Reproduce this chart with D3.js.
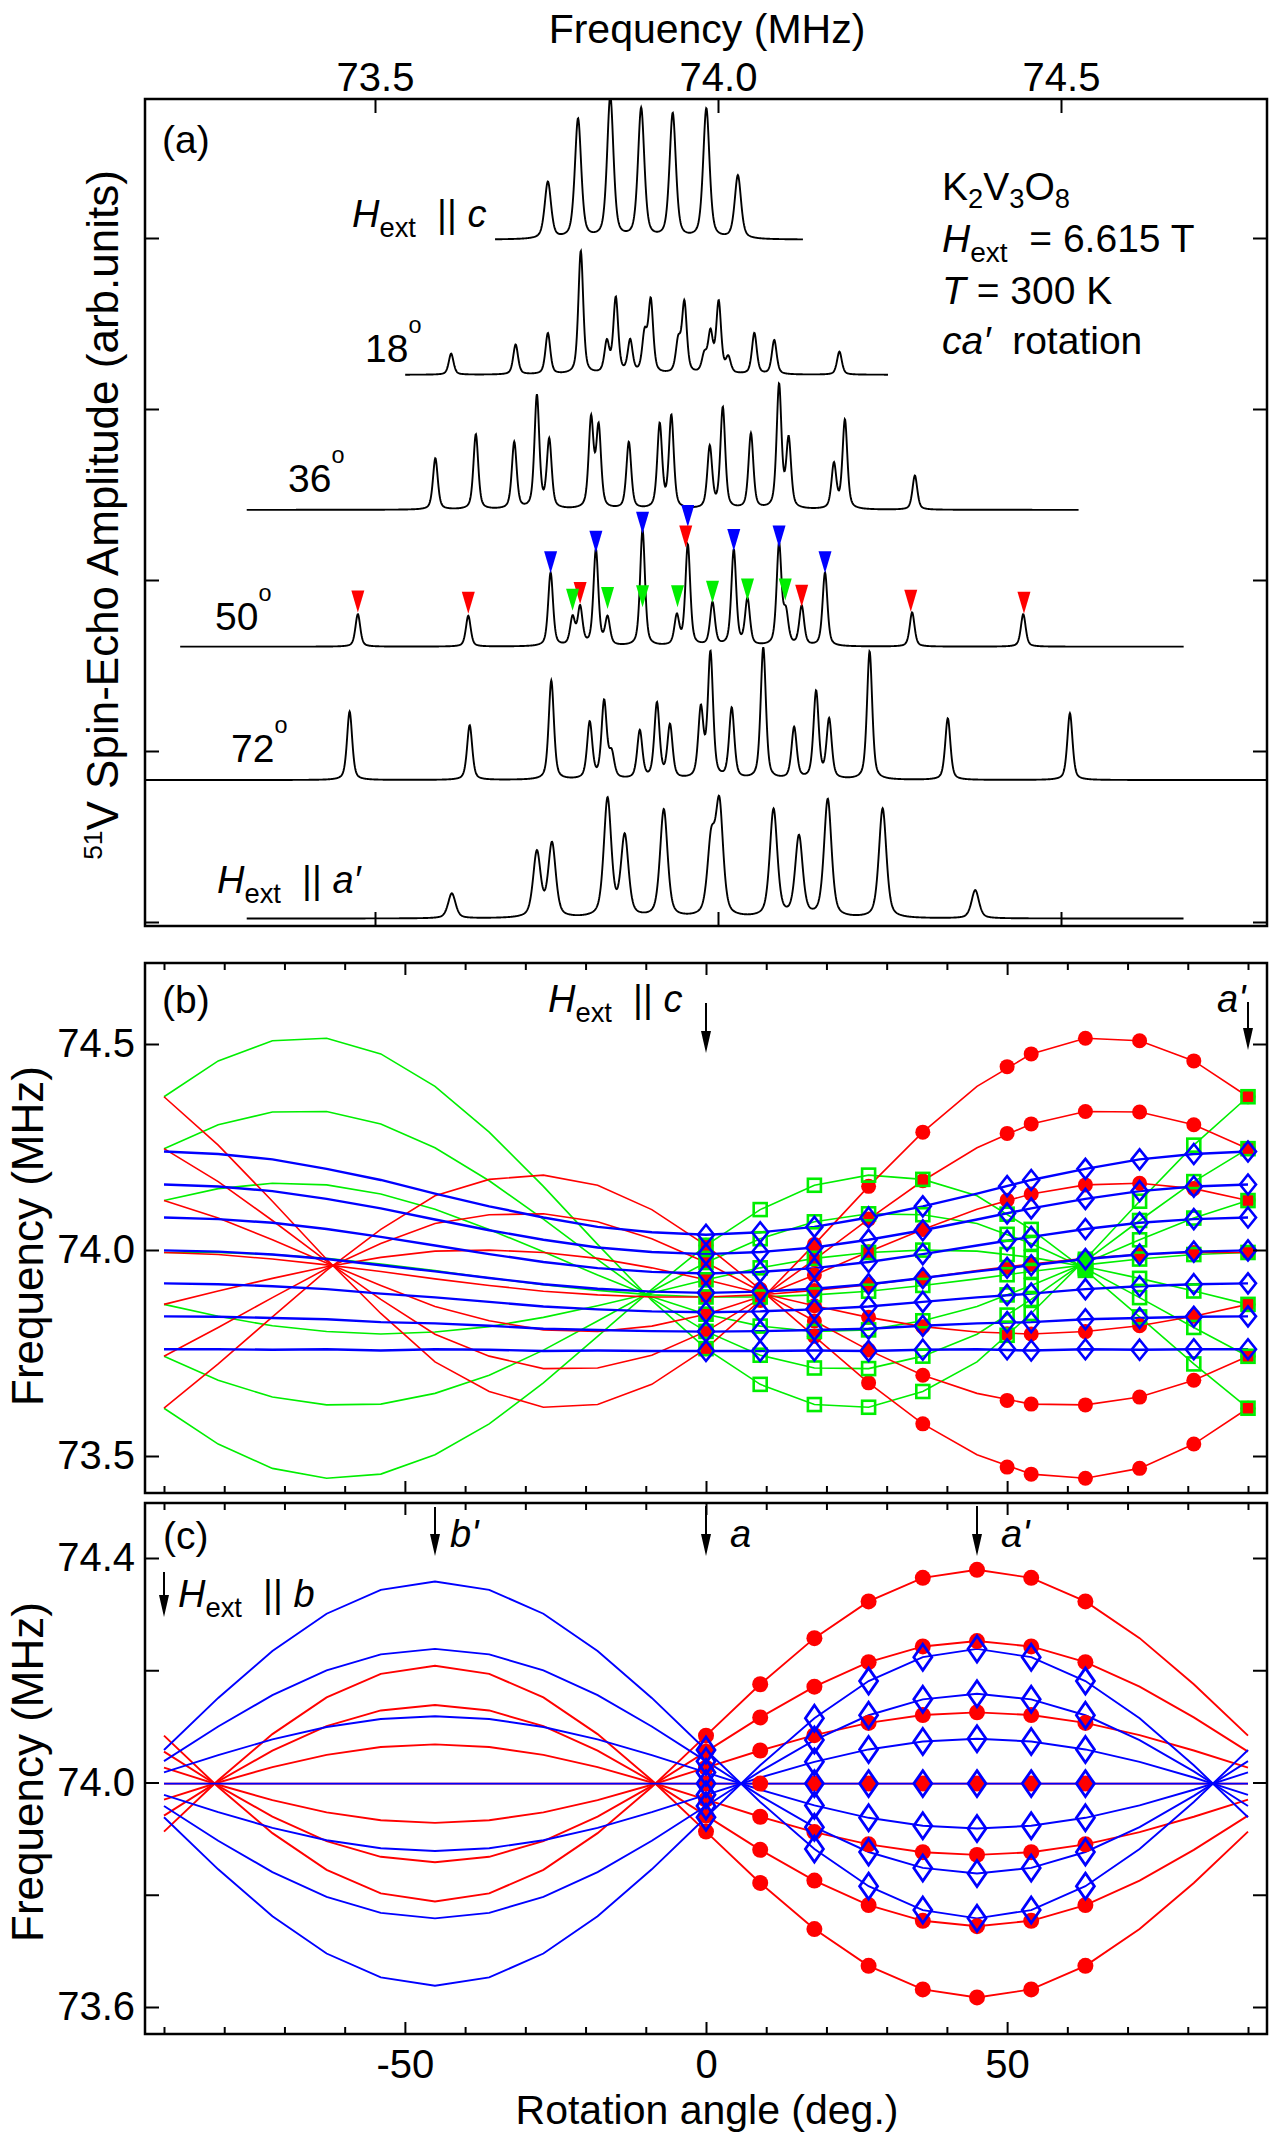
<!DOCTYPE html>
<html>
<head>
<meta charset="utf-8">
<script src="https://cdn.jsdelivr.net/npm/d3@7"></script>
<style>
  body { margin: 0; background: #fff; }
  text { font-family: "Liberation Sans", Arial, Helvetica, sans-serif; fill: #000; white-space: pre; }
</style>
</head>
<body>
<svg id="fig" width="1270" height="2132"></svg>
<script>
// ---------- data ----------

// panel (a): spectra, peaks as [frequency MHz, height arb.u.]
const PK_C = [[73.752,0.333],[73.796,0.70],[73.843,0.83],[73.888,0.76],[73.934,0.73],[73.983,0.76],[74.029,0.37]];
const PK_18 = [[73.611,0.123],[73.705,0.175],[73.752,0.24],[73.800,0.72],[73.838,0.18],[73.851,0.44],[73.872,0.19],
  [73.893,0.22],[73.902,0.42],[73.942,0.18],[73.951,0.41],[73.980,0.10],[73.989,0.23],[74.001,0.415],[74.015,0.09],
  [74.053,0.24],[74.082,0.20],[74.177,0.135]];
const PK_36 = [[73.588,0.30],[73.647,0.44],[73.703,0.39],[73.736,0.66],[73.754,0.40],[73.815,0.52],[73.826,0.47],
  [73.870,0.39],[73.915,0.49],[73.932,0.54],[73.988,0.36],[74.007,0.59],[74.048,0.44],[74.089,0.72],[74.103,0.40],
  [74.169,0.26],[74.185,0.52],[74.287,0.20]];
const PK_50 = [[73.475,0.19],[73.636,0.18],[73.756,0.43],[73.788,0.16],[73.799,0.22],[73.822,0.56],[73.839,0.16],
  [73.890,0.68],[73.940,0.17],[73.956,0.59],[73.992,0.25],[74.023,0.56],[74.043,0.27],[74.089,0.59],[74.099,0.18],
  [74.122,0.23],[74.156,0.43],[74.283,0.20],[74.445,0.19]];
const PK_72 = [[73.463,0.40],[73.638,0.32],[73.757,0.58],[73.813,0.33],[73.834,0.45],[73.845,0.14],[73.886,0.28],
  [73.911,0.44],[73.930,0.31],[73.975,0.40],[73.989,0.73],[74.020,0.41],[74.066,0.77],[74.111,0.30],[74.143,0.51],
  [74.162,0.345],[74.221,0.75],[74.335,0.36],[74.513,0.39]];
const PK_A = [[73.612,0.146],[73.736,0.38],[73.758,0.43],[73.839,0.69],[73.864,0.47],[73.921,0.63],[73.990,0.42],
  [74.002,0.64],[74.081,0.63],[74.118,0.47],[74.160,0.69],[74.240,0.64],[74.375,0.165]];
// order: H||c, 18, 36, 50, 72, H||a'
const SPEC_BASE = [3.99, 3.20, 2.41, 1.61, 0.83, 0.02];
const SPEC_LO = [73.675, 73.544, 73.313, 73.216, 73.166, 73.313];
const SPEC_HI = [74.124, 74.248, 74.526, 74.679, 74.800, 74.679];
const SPEC_HW = [0.0055, 0.0042, 0.0042, 0.0042, 0.0045, 0.0065];

// triangles on the 50 deg spectrum: [frequency, tip height above baseline]
const TRI_BLU = [[73.756,0.43],[73.822,0.55],[73.890,0.66],[73.956,0.70],[74.023,0.56],[74.089,0.58],[74.156,0.43]];
const TRI_RED = [[73.475,0.20],[73.636,0.193],[73.799,0.25],[73.953,0.58],[74.122,0.234],[74.281,0.205],[74.446,0.193]];
const TRI_GRN = [[73.788,0.21],[73.839,0.22],[73.890,0.23],[73.941,0.23],[73.992,0.257],[74.043,0.27],[74.098,0.27]];

// panels (b),(c): line centre and splitting per angle; the 7 lines are centre + k*splitting
const ANG = [-90,-81,-72,-63,-54,-45,-36,-27,-18,-9,0,9,18,27,36,45,54,63,72,81,90];
const K = [-3,-2,-1,0,1,2,3];

const B_RED_C = [73.994,73.989,73.978,73.964,73.948,73.930,73.914,73.900,73.891,73.886,73.886,73.891,73.902,73.916,73.932,73.950,73.966,73.980,73.989,73.994,73.994];
const B_RED_Q = [0.126,0.0885,0.0468,0.0045,-0.034,-0.0672,-0.0858,-0.0939,-0.0887,-0.0707,-0.0418,-0.0045,0.0372,0.0795,0.118,0.149,0.170,0.178,0.173,0.155,0.126];
const B_GRN_C = [73.994,73.994,73.989,73.980,73.966,73.950,73.932,73.916,73.902,73.891,73.886,73.886,73.891,73.900,73.914,73.930,73.948,73.964,73.978,73.989,73.994];
const B_GRN_Q = [0.126,0.155,0.173,0.178,0.170,0.149,0.118,0.0795,0.0372,-0.0045,-0.0418,-0.0707,-0.0887,-0.0939,-0.0858,-0.0672,-0.034,0.0045,0.0468,0.0885,0.126];
const B_BLU_C = [73.999,73.996,73.989,73.978,73.963,73.948,73.932,73.917,73.906,73.899,73.896,73.899,73.906,73.917,73.932,73.948,73.963,73.978,73.989,73.996,73.999];
const B_BLU_Q = [0.080,0.079,0.077,0.073,0.069,0.063,0.058,0.054,0.050,0.048,0.047,0.048,0.050,0.054,0.058,0.063,0.069,0.073,0.077,0.079,0.080];

// measured points in (b)
const B_MK_ANG = [0,9,18,27,36,50,54,63,72,81,90];
const B_MK_RED_C = [73.886,73.891,73.902,73.916,73.932,73.959,73.966,73.980,73.989,73.994,73.994];
const B_MK_RED_Q = [-0.0418,-0.0045,0.0372,0.0795,0.118,0.162,0.170,0.178,0.173,0.155,0.126];
const B_MK_GRN_C = [73.886,73.886,73.891,73.900,73.914,73.940,73.948,73.964,73.978,73.989,73.994];
const B_MK_GRN_Q = [-0.0418,-0.0707,-0.0887,-0.0939,-0.0858,-0.049,-0.034,0.0045,0.0468,0.0885,0.126];
const B_MK_BLU_C = [73.896,73.899,73.906,73.917,73.932,73.957,73.963,73.978,73.989,73.996,73.999];
const B_MK_BLU_Q = [0.047,0.048,0.050,0.054,0.058,0.066,0.069,0.073,0.077,0.079,0.080];

const C_CENTER = 73.998;
const C_RED_Q = [0.0285,-0.002,-0.0294,-0.0512,-0.0652,-0.070,-0.0652,-0.0512,-0.0294,-0.002,0.0285,0.059,0.0864,0.1082,0.1222,0.127,0.1222,0.1082,0.0864,0.059,0.0285];
const C_BLU_Q = [0.020,0.0509,0.0788,0.1009,0.1151,0.120,0.1151,0.1009,0.0788,0.0509,0.020,-0.0109,-0.0388,-0.0609,-0.0751,-0.080,-0.0751,-0.0609,-0.0388,-0.0109,0.020];
const C_RED_MK = [0,9,18,27,36,45,54,63];
const C_BLU_MK = [0,18,27,36,45,54,63];

// ticks
const XA_TICKS = [73.5, 74.0, 74.5];
const YA_TICKS = [0, 1, 2, 3, 4];
const YB_TICKS = [73.5, 74.0, 74.5];
const YC_TICKS = [73.6, 73.8, 74.0, 74.2, 74.4];
const YC_LABELS = [73.6, 74.0, 74.4];
const X_TICKS = [-90,-80,-70,-60,-50,-40,-30,-20,-10,0,10,20,30,40,50,60,70,80,90];
const X_MAJOR = [-50, 0, 50];

const RED = '#ff0000', GRN = '#00ee00', BLU = '#0000ff';

// ---------- layout ----------
const svg = d3.select('#fig');
const L = 145, R = 1267;
const PA = {top: 99, bottom: 926}, PB = {top: 963, bottom: 1493}, PC = {top: 1503, bottom: 2034};

const xa = d3.scaleLinear().domain([73.5, 74.0]).range([375, 718]);
const ya = d3.scaleLinear().domain([0, 1]).range([922, 751]);
const xr = d3.scaleLinear().domain([0, 90]).range([706, 1248]);
const yb = d3.scaleLinear().domain([73.5, 74.5]).range([1456, 1044]);
const yc = d3.scaleLinear().domain([73.6, 74.4]).range([2007, 1558]);

const defs = svg.append('defs');
[['clipA', PA], ['clipB', PB], ['clipC', PC]].forEach(([id, p]) => {
  defs.append('clipPath').attr('id', id).append('rect')
    .attr('x', L).attr('y', p.top).attr('width', R - L).attr('height', p.bottom - p.top);
});

// rich text: segments with italic / sub / sup
function rich(g, x, y, segs, fs, anchor) {
  const t = g.append('text').attr('x', x).attr('y', y).attr('font-size', fs);
  if (anchor) t.attr('text-anchor', anchor);
  let cur = 0;
  segs.forEach((s) => {
    const shift = s.sub ? fs * s.sub : s.sup ? -fs * s.sup : 0;
    const ts = t.append('tspan').text(s.t).attr('dy', shift - cur);
    cur = shift;
    if (s.it) ts.attr('font-style', 'italic');
    if (s.size) ts.attr('font-size', fs * s.size);
  });
  return t;
}

function axis(gen, x, y, size, values, fmt, pad) {
  const g = svg.append('g').attr('transform', `translate(${x},${y})`)
    .call(gen.tickValues(values).tickSize(size).tickSizeOuter(0).tickPadding(pad || 0)
      .tickFormat(fmt || (() => '')));
  g.select('.domain').remove();
  g.attr('font-family', null).attr('font-size', null);
  g.selectAll('line').attr('stroke', '#000').attr('stroke-width', 2);
  g.selectAll('text').attr('font-size', 40).attr('fill', '#000');
  return g;
}

function frame(p) {
  svg.append('rect').attr('x', L).attr('y', p.top).attr('width', R - L).attr('height', p.bottom - p.top)
    .attr('fill', 'none').attr('stroke', '#000').attr('stroke-width', 2.5);
}

function arrow(x, y1, y2) {
  svg.append('line').attr('x1', x).attr('x2', x).attr('y1', y1).attr('y2', y2 - 16)
    .attr('stroke', '#000').attr('stroke-width', 2);
  svg.append('path').attr('d', `M${x - 5},${y2 - 22}L${x + 5},${y2 - 22}L${x},${y2}Z`).attr('fill', '#000');
}

const HEXT = [{t: 'H', it: 1}, {t: 'ext', sub: 0.26, size: 0.72}, {t: '  || '}];

// ---------- panel (a) ----------
const spectra = [PK_C, PK_18, PK_36, PK_50, PK_72, PK_A].map((pk, i) => ({
  pk, base: SPEC_BASE[i], lo: SPEC_LO[i], hi: SPEC_HI[i], hw: SPEC_HW[i],
}));

function trace(s) {
  return d3.range(s.lo, s.hi, 0.0006).map((f) => {
    let v = 0;
    s.pk.forEach(([f0, h]) => {
      const u = (f - f0) / s.hw;
      v += h * (0.5 / (1 + u * u) + 0.5 * Math.exp(-0.693 * u * u));
    });
    return [f, s.base + v];
  });
}

const lineA = d3.line().x((d) => xa(d[0])).y((d) => ya(d[1]));
const gA = svg.append('g').attr('clip-path', 'url(#clipA)');
gA.selectAll('path.spec').data(spectra).join('path').attr('class', 'spec')
  .attr('d', (s) => lineA(trace(s))).attr('fill', 'none').attr('stroke', '#000').attr('stroke-width', 1.9);

const base50 = SPEC_BASE[3];
[[TRI_BLU, BLU], [TRI_RED, RED], [TRI_GRN, GRN]].forEach(([arr, col]) => {
  gA.selectAll(null).data(arr).join('path')
    .attr('d', (d) => {
      const x = xa(d[0]); const y = ya(base50 + d[1]);
      return `M${x - 6.5},${y - 22}L${x + 6.5},${y - 22}L${x},${y}Z`;
    })
    .attr('fill', col);
});

frame(PA);
axis(d3.axisTop(xa), 0, PA.top, -14, XA_TICKS, d3.format('.1f'), 8);
axis(d3.axisBottom(xa), 0, PA.bottom, -14, XA_TICKS);
axis(d3.axisLeft(ya), L, 0, -14, YA_TICKS);
axis(d3.axisRight(ya), R, 0, -14, YA_TICKS);

svg.append('text').attr('x', 707).attr('y', 43).attr('text-anchor', 'middle').attr('font-size', 41)
  .text('Frequency (MHz)');
rich(svg, 118, 515, [{t: '51', sup: 0.36, size: 0.6}, {t: 'V Spin-Echo Amplitude (arb.units)'}], 44, 'middle')
  .attr('transform', 'rotate(-90,118,515)');

svg.append('text').attr('x', 162).attr('y', 153).attr('font-size', 39).text('(a)');
rich(svg, 352, 227, HEXT.concat([{t: 'c', it: 1}]), 38);
rich(svg, 365, 362, [{t: '18'}, {t: 'o', sup: 0.74, size: 0.6}], 39);
rich(svg, 288, 492, [{t: '36'}, {t: 'o', sup: 0.74, size: 0.6}], 39);
rich(svg, 215, 630, [{t: '50'}, {t: 'o', sup: 0.74, size: 0.6}], 39);
rich(svg, 231, 762, [{t: '72'}, {t: 'o', sup: 0.74, size: 0.6}], 39);
rich(svg, 217, 893, HEXT.concat([{t: 'a\u2032', it: 1}]), 38);

rich(svg, 942, 200, [{t: 'K'}, {t: '2', sub: 0.2, size: 0.7}, {t: 'V'}, {t: '3', sub: 0.2, size: 0.7},
  {t: 'O'}, {t: '8', sub: 0.2, size: 0.7}], 39);
rich(svg, 942, 252, [{t: 'H', it: 1}, {t: 'ext', sub: 0.26, size: 0.72}, {t: '  = 6.615 T'}], 39);
rich(svg, 942, 304, [{t: 'T', it: 1}, {t: ' = 300 K'}], 39);
rich(svg, 942, 354, [{t: 'ca\u2032', it: 1}, {t: '  rotation'}], 39);

// ---------- panel (b) ----------
function family(c, q) {
  return K.map((k) => ANG.map((a, i) => [a, (typeof c === 'number' ? c : c[i]) + k * q[i]]));
}
const lineB = d3.line().x((d) => xr(d[0])).y((d) => yb(d[1]));
const lineC = d3.line().x((d) => xr(d[0])).y((d) => yc(d[1]));

const gB = svg.append('g').attr('clip-path', 'url(#clipB)');
[[B_GRN_C, B_GRN_Q, GRN, 1.6], [B_RED_C, B_RED_Q, RED, 1.6], [B_BLU_C, B_BLU_Q, BLU, 2.4]].forEach(([c, q, col, w]) => {
  gB.selectAll(null).data(family(c, q)).join('path')
    .attr('d', lineB).attr('fill', 'none').attr('stroke', col).attr('stroke-width', w);
});

function bMarks(c, q) {
  const pts = [];
  K.forEach((k) => B_MK_ANG.forEach((a, i) => pts.push([a, c[i] + k * q[i]])));
  return pts;
}
gB.selectAll(null).data(bMarks(B_MK_RED_C, B_MK_RED_Q)).join('circle')
  .attr('cx', (d) => xr(d[0])).attr('cy', (d) => yb(d[1])).attr('r', 7.5).attr('fill', RED);
gB.selectAll(null).data(bMarks(B_MK_GRN_C, B_MK_GRN_Q)).join('rect')
  .attr('x', (d) => xr(d[0]) - 6.5).attr('y', (d) => yb(d[1]) - 6.5).attr('width', 13).attr('height', 13)
  .attr('fill', 'none').attr('stroke', GRN).attr('stroke-width', 2.6);
gB.selectAll(null).data(bMarks(B_MK_BLU_C, B_MK_BLU_Q)).join('path')
  .attr('d', (d) => `M${xr(d[0])},${yb(d[1]) - 10}l8,10l-8,10l-8,-10Z`)
  .attr('fill', 'none').attr('stroke', BLU).attr('stroke-width', 2.6);

frame(PB);
axis(d3.axisTop(xr), 0, PB.top, -7, X_TICKS.filter((v) => !X_MAJOR.includes(v)));
axis(d3.axisTop(xr), 0, PB.top, -12, X_MAJOR);
axis(d3.axisBottom(xr), 0, PB.bottom, -7, X_TICKS.filter((v) => !X_MAJOR.includes(v)));
axis(d3.axisBottom(xr), 0, PB.bottom, -12, X_MAJOR);
axis(d3.axisLeft(yb), L, 0, -14, YB_TICKS, d3.format('.1f'), 10);
axis(d3.axisRight(yb), R, 0, -14, YB_TICKS);

svg.append('text').attr('x', 162).attr('y', 1013).attr('font-size', 39).text('(b)');
rich(svg, 548, 1012, HEXT.concat([{t: 'c', it: 1}]), 38);
arrow(xr(0), 1003, 1053);
rich(svg, 1217, 1012, [{t: "a'", it: 1}], 38);
arrow(xr(90), 1002, 1050);
svg.append('text').attr('transform', 'translate(43,1236) rotate(-90)').attr('text-anchor', 'middle')
  .attr('font-size', 44).text('Frequency (MHz)');

// ---------- panel (c) ----------
const gC = svg.append('g').attr('clip-path', 'url(#clipC)');
[[C_RED_Q, RED], [C_BLU_Q, BLU]].forEach(([q, col]) => {
  gC.selectAll(null).data(family(C_CENTER, q)).join('path')
    .attr('d', lineC).attr('fill', 'none').attr('stroke', col).attr('stroke-width', 1.9);
});
function cMarks(angles, q) {
  const pts = [];
  K.forEach((k) => angles.forEach((a) => pts.push([a, C_CENTER + k * q[ANG.indexOf(a)]])));
  return pts;
}
gC.selectAll(null).data(cMarks(C_RED_MK, C_RED_Q)).join('circle')
  .attr('cx', (d) => xr(d[0])).attr('cy', (d) => yc(d[1])).attr('r', 8).attr('fill', RED);
gC.selectAll(null).data(cMarks(C_BLU_MK, C_BLU_Q)).join('path')
  .attr('d', (d) => `M${xr(d[0])},${yc(d[1]) - 13}l9,13l-9,13l-9,-13Z`)
  .attr('fill', 'none').attr('stroke', BLU).attr('stroke-width', 2.8);

frame(PC);
axis(d3.axisTop(xr), 0, PC.top, -7, X_TICKS.filter((v) => !X_MAJOR.includes(v)));
axis(d3.axisTop(xr), 0, PC.top, -12, X_MAJOR);
axis(d3.axisBottom(xr), 0, PC.bottom, -7, X_TICKS.filter((v) => !X_MAJOR.includes(v)));
axis(d3.axisBottom(xr), 0, PC.bottom, -12, X_MAJOR, (d) => String(d), 16);
axis(d3.axisLeft(yc), L, 0, -14, YC_TICKS, (d) => (YC_LABELS.includes(d) ? d3.format('.1f')(d) : ''), 10);
axis(d3.axisRight(yc), R, 0, -14, YC_TICKS);

svg.append('text').attr('x', 163).attr('y', 1549).attr('font-size', 39).text('(c)');
arrow(xr(-45), 1507, 1556);
rich(svg, 450, 1547, [{t: "b'", it: 1}], 38);
arrow(xr(0), 1506, 1556);
rich(svg, 730, 1547, [{t: 'a', it: 1}], 38);
arrow(xr(45), 1506, 1556);
rich(svg, 1001, 1547, [{t: "a'", it: 1}], 38);
arrow(xr(-90), 1572, 1617);
rich(svg, 178, 1607, HEXT.concat([{t: 'b', it: 1}]), 38);
svg.append('text').attr('transform', 'translate(43,1772) rotate(-90)').attr('text-anchor', 'middle')
  .attr('font-size', 44).text('Frequency (MHz)');

svg.append('text').attr('x', 707).attr('y', 2124).attr('text-anchor', 'middle').attr('font-size', 41)
  .text('Rotation angle (deg.)');
</script>
</body>
</html>
